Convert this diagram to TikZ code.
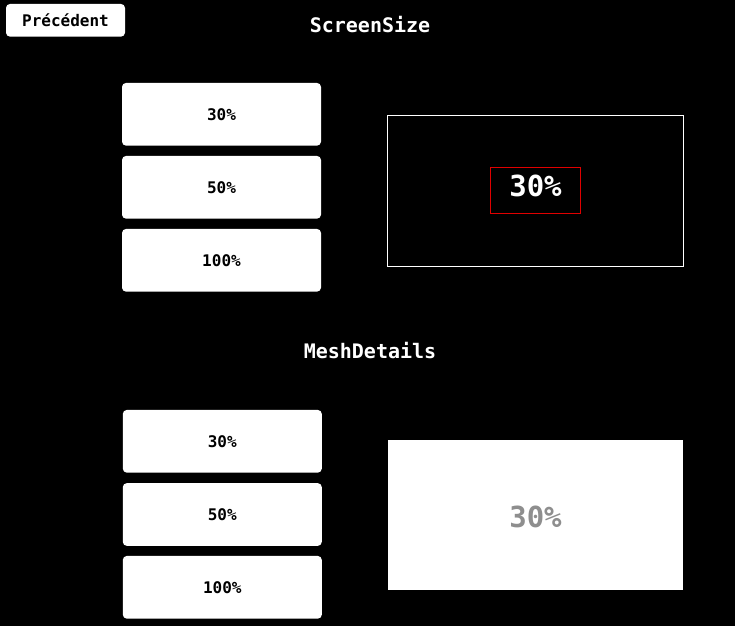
\documentclass[tikz,border=0pt]{standalone}
\usepackage{fontspec}
\setmonofont{DejaVu Sans Mono}
\definecolor{blurgray}{HTML}{8E8E8E}
\definecolor{markred}{HTML}{E00000}
\begin{document}
\begin{tikzpicture}[x=1pt,y=-1pt]
      \tikzstyle{btn} = [fill=white, rounded corners=4pt, inner sep=0pt, minimum width=199pt, minimum height=62.7pt, font=\fontsize{16}{19}\ttfamily\bfseries, text=black]
      \tikzstyle{title} = [text=white, font=\fontsize{20}{24}\ttfamily\bfseries]
      \fill[black] (0,0) rectangle (735,626);
      \useasboundingbox (0,0) rectangle (735,626);

      \node[btn, minimum width=119pt, minimum height=32.7pt] (prev) at (65.5,20.3) {Précédent};

      % ScreenSize
      \node[title] (tsize) at (370,25) {ScreenSize};
      \node[btn] (size1) at (221.5,114.3) {30\%};
      \node[btn] (size2) at (221.5,187.3) {50\%};
      \node[btn] (size3) at (221.5,260.3) {100\%};
      \node[draw=white, line width=1pt, minimum width=296pt, minimum height=151pt] (psize) at (535.5,190.7) {};
      \node[draw=markred, line width=1pt, minimum width=90.5pt, minimum height=46.5pt] (rsize) at (535.5,190.5) {};
      \node[text=white, anchor=base, font=\fontsize{29}{34}\ttfamily\bfseries] (lsize) at (535.5,196) {30\%};

      % MeshDetails
      \node[title] (tmesh) at (370,351) {MeshDetails};
      \node[btn] (mesh1) at (222.3,441.3) {30\%};
      \node[btn] (mesh2) at (222.3,514.5) {50\%};
      \node[btn] (mesh3) at (222.3,587.3) {100\%};
      \node[fill=white, minimum width=295pt, minimum height=150pt, inner sep=0pt] (pmesh) at (535.3,515) {};
      \node[text=blurgray, anchor=base, font=\fontsize{29}{34}\ttfamily\bfseries] (lmesh) at (535.5,527) {30\%};
    \end{tikzpicture}
\end{document}
